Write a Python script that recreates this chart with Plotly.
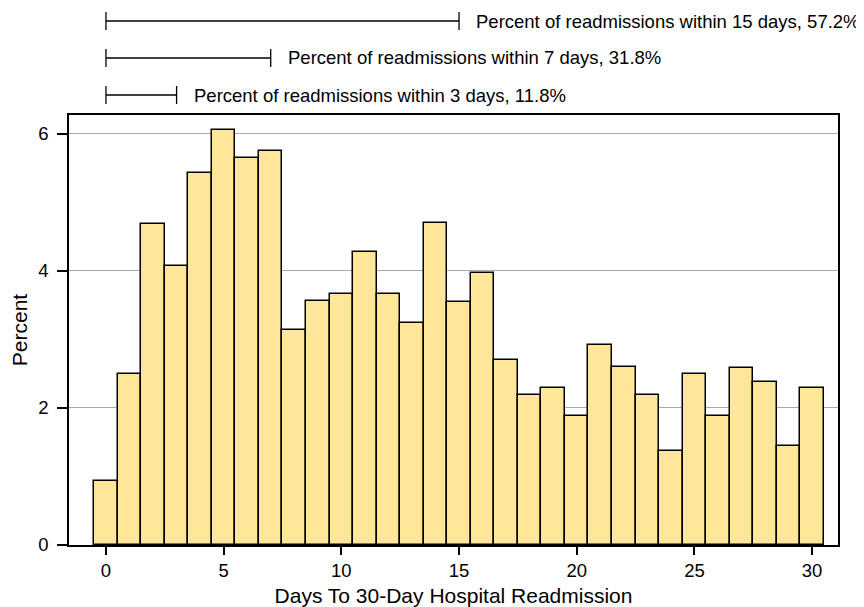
import plotly.graph_objects as go

days = list(range(0, 31))
percent = [0.93, 2.49, 4.68, 4.07, 5.42, 6.05, 5.64, 5.75, 3.13, 3.56,
           3.66, 4.27, 3.66, 3.24, 4.69, 3.54, 3.96, 2.70, 2.19, 2.29,
           1.88, 2.91, 2.60, 2.19, 1.37, 2.49, 1.88, 2.58, 2.38, 1.44, 2.29]

bracket_days = [15, 7, 3]
bracket_pcts = [57.2, 31.8, 11.8]
bracket_labels = [f"Percent of readmissions within {d} days, {p}%" for d, p in zip(bracket_days, bracket_pcts)]
bracket_ypaper = [1.2186, 1.1326, 1.0465]

FONT = "Liberation Sans, Arial, sans-serif"

fig = go.Figure()
fig.add_trace(go.Bar(
    x=days, y=percent, width=1.0,
    marker=dict(color="#FFE699", line=dict(color="black", width=1.5)),
))

half = 0.021
shapes = []
annotations = []
for d, lab, yp in zip(bracket_days, bracket_labels, bracket_ypaper):
    shapes.append(dict(type="line", xref="x", yref="paper", x0=0, x1=d, y0=yp, y1=yp,
                       line=dict(color="black", width=1.3)))
    for xx in (0, d):
        shapes.append(dict(type="line", xref="x", yref="paper", x0=xx, x1=xx,
                           y0=yp - half, y1=yp + half, line=dict(color="black", width=1.3)))
    annotations.append(dict(x=d, y=yp, xref="x", yref="paper", text=lab, showarrow=False,
                            xanchor="left", yanchor="middle", xshift=15,
                            font=dict(family=FONT, size=18.5, color="black")))

# page body has an 8px margin, so the figure is shifted; compensate
fig.update_layout(
    width=856, height=599,
    margin=dict(l=61, r=26, t=107, b=62),
    paper_bgcolor="white", plot_bgcolor="white",
    showlegend=False,
    font=dict(family=FONT, size=18, color="black"),
    shapes=shapes, annotations=annotations,
    bargap=0,
)
fig.update_xaxes(
    range=[-1.57, 31.1], tickvals=[0, 5, 10, 15, 20, 25, 30],
    ticks="outside", ticklen=8, tickwidth=1.5, tickcolor="black",
    showline=True, linecolor="black", linewidth=1.5, mirror=True,
    showgrid=False, zeroline=False, automargin=False,
    title=dict(text="Days To 30-Day Hospital Readmission", font=dict(size=21), standoff=8),
    tickfont=dict(size=18.5),
)
fig.update_yaxes(
    range=[0, 6.27], tickvals=[0, 2, 4, 6],
    ticks="outside", ticklen=10, tickwidth=1.5, tickcolor="black",
    showline=True, linecolor="black", linewidth=1.5, mirror=True,
    showgrid=True, gridcolor="#aaaaaa", gridwidth=1, zeroline=False, automargin=False,
    ticklabelstandoff=5,
    title=dict(text="Percent", font=dict(size=21), standoff=5),
    tickfont=dict(size=18.5),
)

fig.write_html("out.html")
